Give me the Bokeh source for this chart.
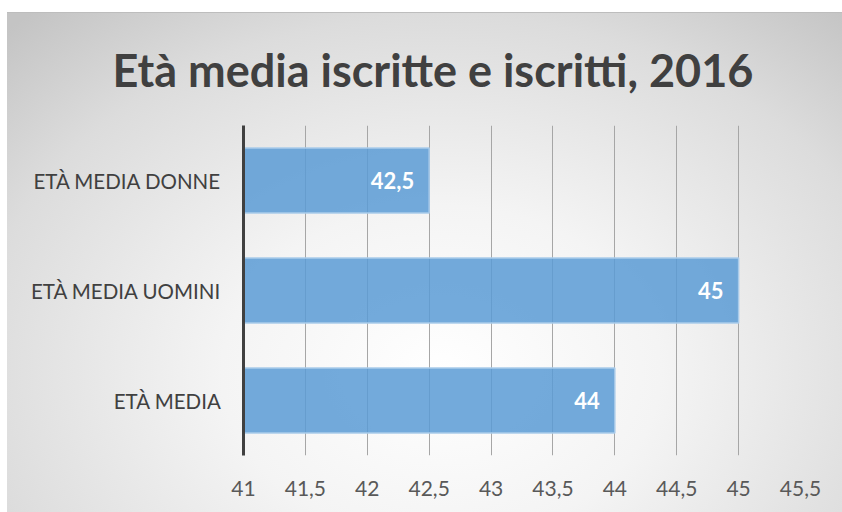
from bokeh.plotting import figure
from bokeh.models import Range1d, CustomJSTickFormatter, FixedTicker, ColumnDataSource
from bokeh.core.properties import value
from bokeh.embed import file_html
from bokeh.resources import INLINE

categories = ["ETÀ MEDIA", "ETÀ MEDIA UOMINI", "ETÀ MEDIA DONNE"]
ages = [44, 45, 42.5]
labels = ["44", "45", "42,5"]
ticks = [41, 41.5, 42, 42.5, 43, 43.5, 44, 44.5, 45, 45.5]

src = ColumnDataSource(dict(cat=categories, age=ages, lab=labels, base=[41] * 3))

p = figure(width=835, height=500, y_range=categories, x_range=Range1d(41, 45.5),
           output_backend="svg", toolbar_location=None,
           min_border_left=236, min_border_right=42, min_border_top=113, min_border_bottom=57)
p.margin = (12, 0, 0, 7)
p.styles = {"background": "radial-gradient(ellipse 75% 95% at 52% 72%, #ffffff 0%, #f4f4f4 35%, #dcdcdc 75%, #c4c4c4 100%)",
            "box-shadow": "inset 0 1px 0 #bdbdbd"}
p.border_fill_color = None
p.background_fill_color = None
p.outline_line_color = None

p.hbar(y="cat", left="base", right="age", height=0.59, source=src,
       fill_color="#5b9bd5", fill_alpha=0.85, line_color="#a9cbea", line_width=1.5)
p.text(x="age", y="cat", text="lab", source=src, x_offset=-15, text_align="right",
       text_baseline="middle", text_color="white", text_font=value("Lato"),
       text_font_style="bold", text_font_size="22px")

p.title.text = "Età media iscritte e iscritti, 2016"
p.title.align = "left"
p.title.offset = -131
p.title.text_font = "Lato"
p.title.text_font_style = "bold"
p.title.text_font_size = "45px"
p.title.text_line_height = 1.0
p.title.text_color = "#404040"
p.title.standoff = 57

p.xgrid.grid_line_color = "#a6a6a6"
p.xgrid.ticker = FixedTicker(ticks=ticks)
p.ygrid.grid_line_color = None

xa = p.xaxis[0]
xa.ticker = FixedTicker(ticks=ticks)
xa.formatter = CustomJSTickFormatter(code="return tick.toString().replace('.', ',');")
xa.axis_line_color = None
xa.major_tick_line_color = None
xa.minor_tick_line_color = None
xa.major_label_text_font = "Lato"
xa.major_label_text_font_size = "21px"
xa.major_label_text_color = "#595959"
xa.major_label_standoff = 19

ya = p.yaxis[0]
ya.axis_line_color = "#404040"
ya.axis_line_width = 3
ya.major_tick_line_color = None
ya.minor_tick_line_color = None
ya.major_label_text_font = "Lato"
ya.major_label_text_font_size = "20.5px"
ya.major_label_text_color = "#404040"
ya.major_label_standoff = 16

open("out.html", "w").write(file_html(p, INLINE))
